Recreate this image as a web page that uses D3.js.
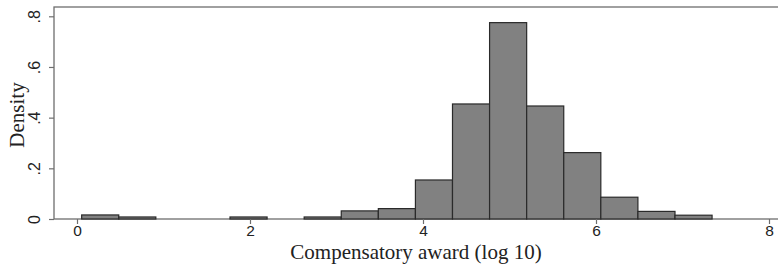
<!DOCTYPE html>
<html>
<head>
<meta charset="utf-8">
<script src="https://cdn.jsdelivr.net/npm/d3@7"></script>
<style>
  body { margin: 0; background: #fff; }
  svg { display: block; font-family: 'Liberation Serif', 'Times New Roman', serif; }
</style>
</head>
<body>
<div id="chart"></div>
<script>
// 17 equal-width bins of log10 compensatory award
const binStart = 0.054;
const binWidth = 0.4287;
const density = [0.016, 0.008, 0, 0, 0.008, 0, 0.008, 0.032, 0.041, 0.154,
                 0.454, 0.775, 0.446, 0.262, 0.086, 0.030, 0.015];
const xTicks = [0, 2, 4, 6, 8];
const yTicks = [0, 0.2, 0.4, 0.6, 0.8];
const yTickLabels = ['0', '.2', '.4', '.6', '.8'];

const bins = density.map((d, i) => ({
  x0: binStart + i * binWidth,
  x1: binStart + (i + 1) * binWidth,
  d
}));

const W = 778, H = 264;
const svg = d3.select('#chart').append('svg')
  .attr('width', W).attr('height', H);

const x = d3.scaleLinear().domain([0, 8]).range([77, 769]);
const y = d3.scaleLinear().domain([0, 0.8]).range([219, 16.3]);

const plotLeft = 54, plotTop = 7, plotBottom = 219;

// plot frame (right edge falls outside the image)
svg.append('rect')
  .attr('x', plotLeft).attr('y', plotTop)
  .attr('width', W + 10 - plotLeft).attr('height', plotBottom - plotTop)
  .attr('fill', 'none').attr('stroke', '#6e6e6e').attr('stroke-width', 1.3);

// Bars
svg.selectAll('rect.bar')
  .data(bins.filter(b => b.d > 0))
  .join('rect')
  .attr('class', 'bar')
  .attr('x', b => x(b.x0))
  .attr('y', b => y(b.d))
  .attr('width', b => x(b.x1) - x(b.x0))
  .attr('height', b => y(0) - y(b.d))
  .attr('fill', '#818181')
  .attr('stroke', '#2a2a2a')
  .attr('stroke-width', 1.2);

// X axis
svg.append('g')
  .attr('transform', `translate(0,${plotBottom})`)
  .call(d3.axisBottom(x).tickValues(xTicks).tickSize(5).tickFormat(d3.format('d')))
  .call(ax => ax.select('.domain').remove())
  .call(ax => ax.selectAll('line').attr('stroke', '#6e6e6e').attr('stroke-width', 1.2))
  .call(ax => ax.selectAll('text')
    .attr('font-size', '15.5px')
    .attr('fill', '#222')
    .attr('y', 7)
    .attr('dy', '0.62em'));

// Y axis with rotated labels
const yg = svg.append('g')
  .attr('transform', `translate(${plotLeft},0)`)
  .call(d3.axisLeft(y).tickValues(yTicks).tickSize(5).tickFormat((d, i) => yTickLabels[i]))
  .call(ax => ax.select('.domain').remove())
  .call(ax => ax.selectAll('line').attr('stroke', '#6e6e6e').attr('stroke-width', 1.2));
yg.selectAll('text')
  .attr('font-size', '16px')
  .attr('fill', '#222')
  .attr('x', null).attr('dy', null)
  .attr('transform', 'translate(-14,0) rotate(-90)')
  .attr('text-anchor', 'middle')
  .attr('dominant-baseline', 'auto');

// Axis titles
svg.append('text')
  .attr('x', 416).attr('y', 259)
  .attr('text-anchor', 'middle')
  .attr('font-size', '21px')
  .attr('fill', '#222')
  .text('Compensatory award (log 10)');

svg.append('text')
  .attr('transform', 'translate(24,115) rotate(-90)')
  .attr('text-anchor', 'middle')
  .attr('font-size', '21px')
  .attr('fill', '#222')
  .text('Density');
</script>
</body>
</html>
